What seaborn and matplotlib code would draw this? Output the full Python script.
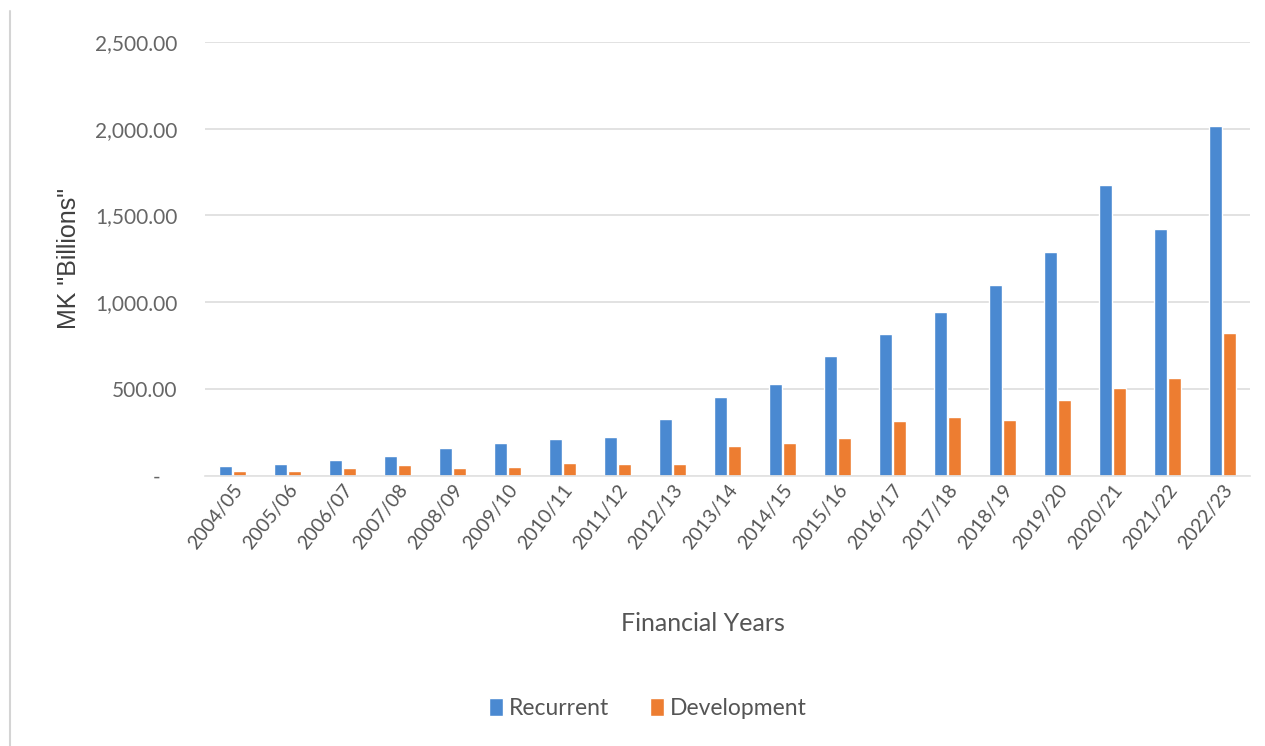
import matplotlib
matplotlib.use("Agg")
import matplotlib.pyplot as plt
from matplotlib.lines import Line2D
from matplotlib.ticker import FuncFormatter, MultipleLocator
import seaborn as sns
import pandas as pd

# Financial years and budget allocations (MK billions)
years = ["2004/05", "2005/06", "2006/07", "2007/08", "2008/09", "2009/10",
         "2010/11", "2011/12", "2012/13", "2013/14", "2014/15", "2015/16",
         "2016/17", "2017/18", "2018/19", "2019/20", "2020/21", "2021/22",
         "2022/23"]
recurrent = [60, 70, 90, 112, 160, 188, 210, 223, 326, 453, 528, 690,
             817, 944, 1102, 1290, 1675, 1420, 2015]
development = [27, 31, 46, 65, 48, 54, 73, 66, 66, 170, 190, 216,
               315, 342, 320, 435, 508, 566, 823]
series_names = ["Recurrent", "Development"]
series_colors = ["#4a89d1", "#ed7d31"]

df = pd.DataFrame({
    "Year": years * 2,
    "Value": recurrent + development,
    "Series": [series_names[0]] * len(years) + [series_names[1]] * len(years),
})

sns.set_theme(style="white")
plt.rcParams["font.family"] = ["Lato", "DejaVu Sans"]

fig = plt.figure(figsize=(12.65, 7.46), dpi=100)
ax = fig.add_axes([0.162, 0.362, 0.826, 0.582])

sns.barplot(data=df, x="Year", y="Value", hue="Series",
            palette=series_colors, width=0.52, gap=0.08,
            saturation=1, ax=ax, legend=True)

ax.set_ylim(0, 2500)
ax.yaxis.set_major_locator(MultipleLocator(500))


def money(v, _pos):
    if abs(v) < 1e-9:
        return "-   "
    return f"{v:,.2f}"


ax.yaxis.set_major_formatter(FuncFormatter(money))
ax.grid(axis="y", color="#e2e2e2", linewidth=1.4)
ax.set_axisbelow(True)
for side in ["top", "right", "left"]:
    ax.spines[side].set_visible(False)
ax.spines["bottom"].set_color("#e2e2e2")
ax.tick_params(axis="both", length=0)
ax.tick_params(axis="y", labelsize=15, labelcolor="#666666", pad=20)
ax.tick_params(axis="x", labelsize=14, labelcolor="#555555", pad=4)
plt.setp(ax.get_xticklabels(), rotation=52, ha="right",
         rotation_mode="anchor")

ax.set_xlabel("Financial Years", fontsize=18, color="#555555")
ax.xaxis.set_label_coords(0.477, -0.313)
ax.set_ylabel('MK "Billions"', fontsize=18, color="#404040",
              family=["Liberation Sans", "DejaVu Sans"], labelpad=10)

leg = ax.legend(loc="upper center", bbox_to_anchor=(0.424, -0.464),
                ncol=2, frameon=False, fontsize=16.5, handlelength=0.6,
                handleheight=0.8, handletextpad=0.25, columnspacing=1.8)
for t in leg.get_texts():
    t.set_color("#555555")

# chart frame edge on the left
fig.add_artist(Line2D([0.008, 0.008], [0.0, 0.985], color="#d4d4d4",
                      linewidth=1.5, transform=fig.transFigure))

fig.savefig("out.png", dpi=100, facecolor="white")
